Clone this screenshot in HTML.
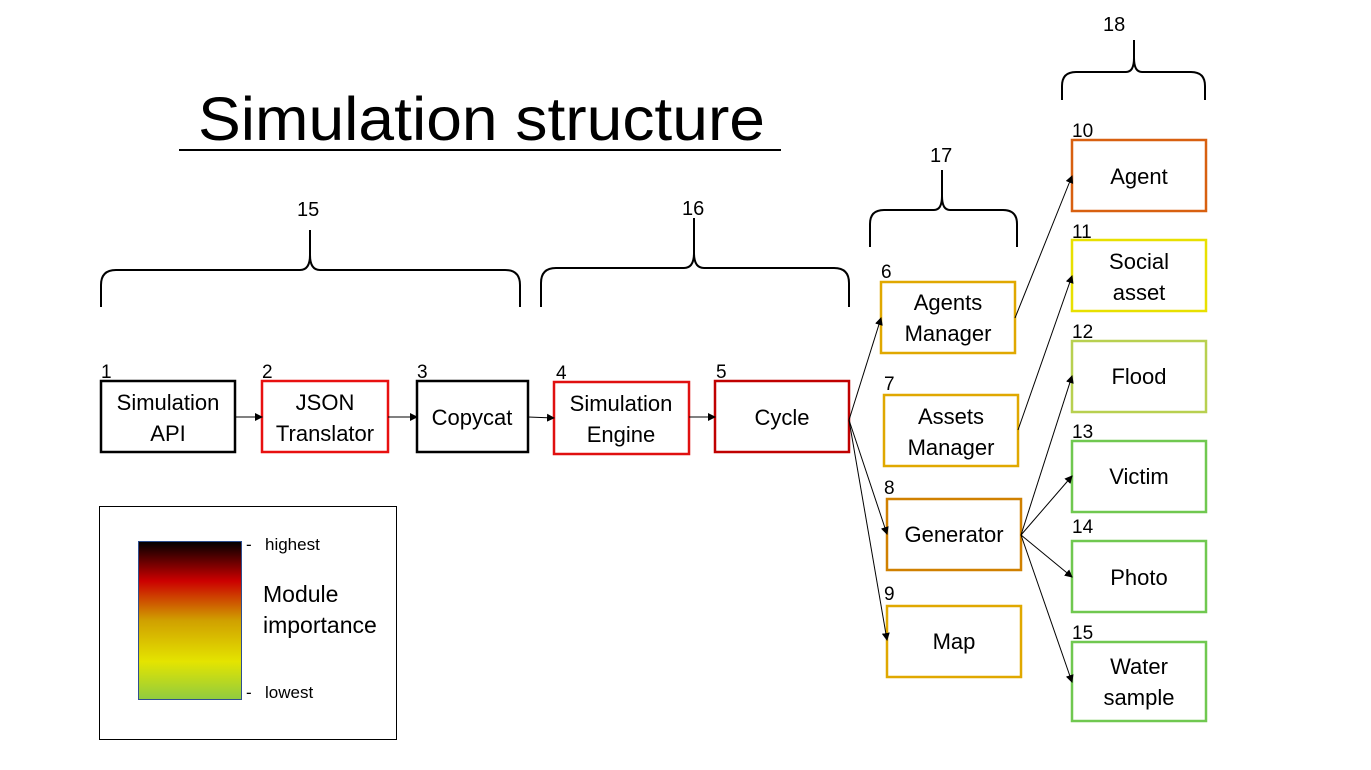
<!DOCTYPE html>
<html><head><meta charset="utf-8"><style>
html,body{margin:0;padding:0;background:#fff;}
svg{display:block;font-family:"Liberation Sans",sans-serif;}
</style></head><body>
<svg width="1371" height="770" viewBox="0 0 1371 770" xmlns="http://www.w3.org/2000/svg">
<defs>
<marker id="a" markerWidth="8" markerHeight="8" refX="7" refY="4" orient="auto" markerUnits="userSpaceOnUse">
<path d="M0,0 L8,4 L0,8 z" fill="#000"/></marker>
<linearGradient id="g" x1="0" y1="0" x2="0" y2="1">
<stop offset="0" stop-color="#000"/>
<stop offset="0.25" stop-color="#cc0000"/>
<stop offset="0.5" stop-color="#d0a000"/>
<stop offset="0.76" stop-color="#e4e400"/>
<stop offset="1" stop-color="#90cc40"/>
</linearGradient>
</defs>
<text x="198" y="140" font-size="61" textLength="567" lengthAdjust="spacingAndGlyphs">Simulation structure</text>
<line x1="179" y1="150" x2="781" y2="150" stroke="#000" stroke-width="2"/>

<g fill="none" stroke="#000" stroke-width="2">
<path d="M101,307 V285 Q101,270 116,270 H300 Q310,270 310,255 V230 M310,255 Q310,270 320,270 H505 Q520,270 520,285 V307"/>
<path d="M541,307 V283 Q541,268 556,268 H684 Q694,268 694,253 V218 M694,253 Q694,268 704,268 H834 Q849,268 849,283 V307"/>
<path d="M870,247 V224 Q870,210 884,210 H934 Q942,210 942,196 V170 M942,196 Q942,210 950,210 H1003 Q1017,210 1017,224 V247"/>
<path d="M1062,100 V86 Q1062,72 1076,72 H1126 Q1134,72 1134,58 V40 M1134,58 Q1134,72 1142,72 H1191 Q1205,72 1205,86 V100"/>
</g>
<g font-size="20">
<text x="297" y="216">15</text><text x="682" y="215">16</text><text x="930" y="162">17</text><text x="1103" y="31">18</text>
</g>

<g fill="none" stroke-width="2.5">
<rect x="101" y="381" width="134" height="71" stroke="#000"/>
<rect x="262" y="381" width="126" height="71" stroke="#e81010"/>
<rect x="417" y="381" width="111" height="71" stroke="#000"/>
<rect x="554" y="382" width="135" height="72" stroke="#e01010"/>
<rect x="715" y="381" width="134" height="71" stroke="#c00000"/>
<rect x="881" y="282" width="134" height="71" stroke="#e0a800"/>
<rect x="884" y="395" width="134" height="71" stroke="#e0a800"/>
<rect x="887" y="499" width="134" height="71" stroke="#d08000"/>
<rect x="887" y="606" width="134" height="71" stroke="#e0a800"/>
<rect x="1072" y="140" width="134" height="71" stroke="#d86010"/>
<rect x="1072" y="240" width="134" height="71" stroke="#e8e000"/>
<rect x="1072" y="341" width="134" height="71" stroke="#b8d050"/>
<rect x="1072" y="441" width="134" height="71" stroke="#70c850"/>
<rect x="1072" y="541" width="134" height="71" stroke="#70c850"/>
<rect x="1072" y="642" width="134" height="79" stroke="#70c850"/>
</g>

<g font-size="19">
<text x="101" y="378">1</text><text x="262" y="378">2</text><text x="417" y="378">3</text><text x="556" y="379">4</text><text x="716" y="378">5</text>
<text x="881" y="278">6</text><text x="884" y="390">7</text><text x="884" y="494">8</text><text x="884" y="600">9</text>
<text x="1072" y="137">10</text><text x="1072" y="238">11</text><text x="1072" y="338">12</text><text x="1072" y="438">13</text><text x="1072" y="533">14</text><text x="1072" y="639">15</text>
</g>

<g font-size="22" text-anchor="middle">
<text x="168" y="410">Simulation</text><text x="168" y="441">API</text>
<text x="325" y="410">JSON</text><text x="325" y="441">Translator</text>
<text x="472" y="425">Copycat</text>
<text x="621" y="411">Simulation</text><text x="621" y="442">Engine</text>
<text x="782" y="425">Cycle</text>
<text x="948" y="310">Agents</text><text x="948" y="341">Manager</text>
<text x="951" y="424">Assets</text><text x="951" y="455">Manager</text>
<text x="954" y="542">Generator</text>
<text x="954" y="649">Map</text>
<text x="1139" y="184">Agent</text>
<text x="1139" y="269">Social</text><text x="1139" y="300">asset</text>
<text x="1139" y="384">Flood</text>
<text x="1139" y="484">Victim</text>
<text x="1139" y="585">Photo</text>
<text x="1139" y="674">Water</text><text x="1139" y="705">sample</text>
</g>

<g stroke="#000" stroke-width="1" marker-end="url(#a)">
<line x1="235" y1="417" x2="262" y2="417"/>
<line x1="388" y1="417" x2="417" y2="417"/>
<line x1="528" y1="417" x2="554" y2="418"/>
<line x1="689" y1="417" x2="715" y2="417"/>
<line x1="849" y1="420" x2="881" y2="318"/>
<line x1="849" y1="420" x2="887" y2="534"/>
<line x1="849" y1="420" x2="887" y2="640"/>
<line x1="1015" y1="318" x2="1072" y2="176"/>
<line x1="1018" y1="430" x2="1072" y2="276"/>
<line x1="1021" y1="535" x2="1072" y2="376"/>
<line x1="1021" y1="535" x2="1072" y2="476"/>
<line x1="1021" y1="535" x2="1072" y2="577"/>
<line x1="1021" y1="535" x2="1072" y2="682"/>
</g>

<rect x="99.5" y="506.5" width="297" height="233" fill="none" stroke="#000" stroke-width="1"/>
<rect x="138.5" y="541.5" width="103" height="158" fill="url(#g)" stroke="#2f4f8f" stroke-width="1"/>
<g font-size="17"><text x="246" y="550">-</text><text x="265" y="550">highest</text>
<text x="246" y="698">-</text><text x="265" y="698">lowest</text></g>
<g font-size="23"><text x="263" y="602">Module</text><text x="263" y="633">importance</text></g>
</svg>
</body></html>
